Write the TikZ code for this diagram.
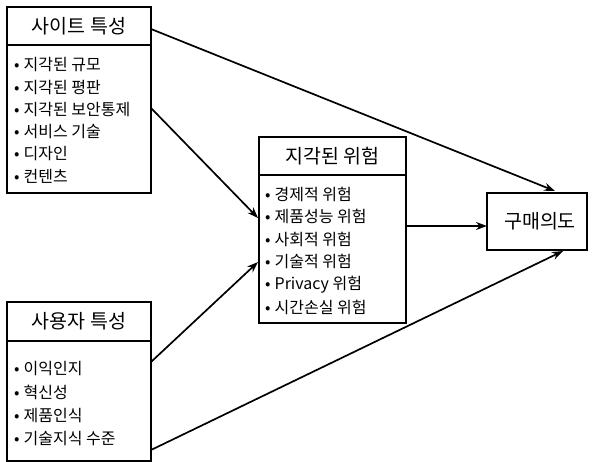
\documentclass[tikz,border=0pt]{standalone}
\usepackage{fontspec}
\setmainfont{Noto Sans CJK KR}
\usetikzlibrary{arrows.meta}
\begin{document}
\begin{tikzpicture}[x=1pt,y=-1pt,
  box/.style={draw, line width=1.1pt, inner sep=0pt},
  ttl/.style={font=\fontsize{19.5}{22}\selectfont},
  item/.style={font=\fontsize{16}{18}\selectfont, anchor=west, inner sep=0pt},
  arr/.style={line width=1.7pt, -{Stealth[length=11pt,width=8pt]}}
]
\useasboundingbox[fill=white] (0,0) rectangle (594,461);
% site characteristics
\node[box, minimum width=144pt, minimum height=38pt] (siteT) at (79,26) {};
\node[box, minimum width=144pt, minimum height=148pt] (siteB) at (79,119) {};
\node[ttl] (siteL) at (siteT.center) {사이트 특성};
\foreach \t [count=\i] in {지각된 규모, 지각된 평판, 지각된 보안통제, 서비스 기술, 디자인, 컨텐츠}
  \node[item] (s\i) at (14, 65+22.2*\i-22.2) {•\hspace{4pt}\t};
% user characteristics
\node[box, minimum width=144pt, minimum height=39pt] (userT) at (79,321.5) {};
\node[box, minimum width=144pt, minimum height=120pt] (userB) at (79,401) {};
\node[ttl] (userL) at (userT.center) {사용자 특성};
\foreach \t [count=\i] in {이익인지, 혁신성, 제품인식, 기술지식 수준}
  \node[item] (u\i) at (14, 369+23*\i-23) {•\hspace{4pt}\t};
% perceived risk
\node[box, minimum width=147pt, minimum height=38pt] (riskT) at (332.5,156) {};
\node[box, minimum width=147pt, minimum height=148pt] (riskB) at (332.5,249) {};
\node[ttl] (riskL) at (riskT.center) {지각된 위험};
\foreach \t [count=\i] in {경제적 위험, 제품성능 위험, 사회적 위험, 기술적 위험, Privacy 위험, 시간손실 위험}
  \node[item] (r\i) at (265, 194+22.6*\i-22.6) {•\hspace{4pt}\t};
% purchase intention
\node[box, minimum width=100pt, minimum height=57pt] (buy) at (537,221.5) {};
\node[ttl] (buyL) at (540,221.5) {구매의도};
% connector end points
\coordinate (a1s) at (151,29);
\coordinate (a1e) at (555,191);
\coordinate (a2s) at (151,108);
\coordinate (a2e) at (258,218);
\coordinate (a3s) at (151,362);
\coordinate (a3e) at (258,262);
\coordinate (a4s) at (151,450);
\coordinate (a4e) at (563,251);
\coordinate (a5s) at (406,226);
\coordinate (a5e) at (487,226);
\draw[arr] (a1s) -- (a1e);
\draw[arr] (a2s) -- (a2e);
\draw[arr] (a3s) -- (a3e);
\draw[arr] (a4s) -- (a4e);
\draw[arr] (a5s) -- (a5e);
\end{tikzpicture}
\end{document}
